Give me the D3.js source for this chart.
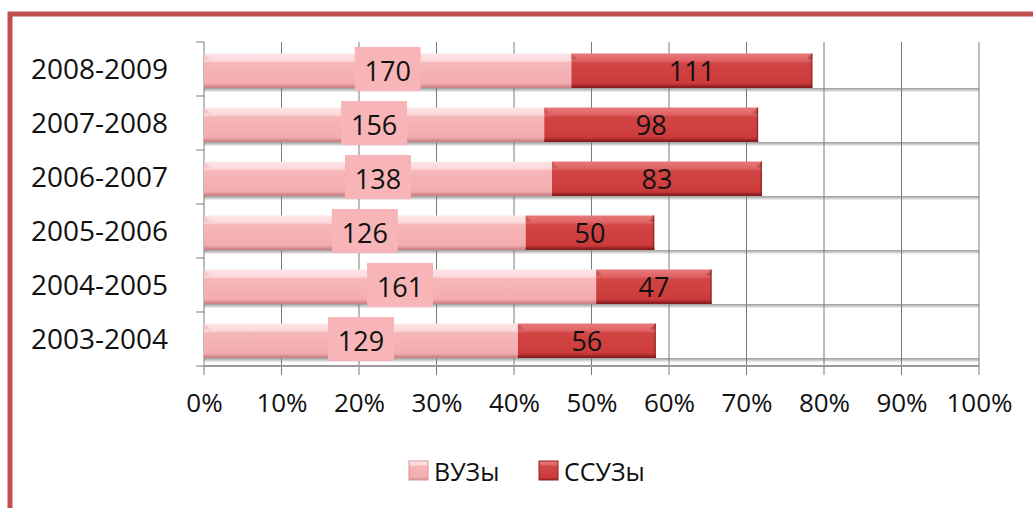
<!DOCTYPE html>
<html>
<head>
<meta charset="utf-8">
<script src="https://cdn.jsdelivr.net/npm/d3@7"></script>
<style>
  body { margin: 0; background: #ffffff; }
  svg { display: block; font-family: "Open Sans", sans-serif; }
</style>
</head>
<body>
<svg id="visualization"></svg>
<script>
// categories, top row first
var years = ["2008-2009", "2007-2008", "2006-2007", "2005-2006", "2004-2005", "2003-2004"]
// numbers written on the bars
var vuzLabels = [170, 156, 138, 126, 161, 129]
var ssuzLabels = [111, 98, 83, 50, 47, 56]
// bar lengths in % of the axis
var vuzShare = [47.4, 43.9, 44.9, 41.5, 50.6, 40.5]
var ssuzShare = [31.1, 27.6, 27.1, 16.6, 14.9, 17.8]
var xTicks = [0, 10, 20, 30, 40, 50, 60, 70, 80, 90, 100]
var seriesNames = ["ВУЗы", "ССУЗы"]

var dimensions = {
    width: 1033,
    height: 508,
    margin: {
        top: 42,
        bottom: 142,
        right: 54,
        left: 204
    }
}

var svg = d3.select("#visualization")
            .attr("width", dimensions.width)
            .attr("height", dimensions.height)

var plotBottom = dimensions.height - dimensions.margin.bottom

var xScale = d3.scaleLinear()
               .domain([0, 100])
               .range([dimensions.margin.left, dimensions.width - dimensions.margin.right])

var yScale = d3.scaleBand()
               .domain(years)
               .range([dimensions.margin.top, plotBottom])

var rows = years.map(function(y, i){
    return {year: y, vuz: vuzShare[i], ssuz: ssuzShare[i], vl: vuzLabels[i], sl: ssuzLabels[i]}
})

var defs = svg.append("defs")
function vGrad(id, stops){
    var g = defs.append("linearGradient").attr("id", id)
                .attr("x1", 0).attr("x2", 0).attr("y1", 0).attr("y2", 1)
    stops.forEach(function(s){
        g.append("stop").attr("offset", s[0]).attr("stop-color", s[1])
    })
}
vGrad("pinkG", [[0, "#fde6e7"], [0.2, "#fcd9db"], [0.28, "#f6b6b8"], [0.85, "#f3acaf"], [1, "#d88e92"]])
vGrad("redG", [[0, "#e77878"], [0.2, "#e06464"], [0.28, "#d24545"], [0.85, "#cc3b3b"], [1, "#9c2424"]])
vGrad("floorG", [[0, "#9a9a9a"], [0.5, "#c8c8c8"], [1, "#f4f4f4"]])

// frame
svg.append("rect")
   .attr("x", 10).attr("y", 14)
   .attr("width", dimensions.width + 20).attr("height", dimensions.height + 20)
   .attr("fill", "#ffffff")
   .attr("stroke", "#c0504d").attr("stroke-width", 5)

var barOffset = 11.5
var barHeight = 34.5

// floor shading under each row
svg.append("g").selectAll("rect")
   .data(rows).enter().append("rect")
   .attr("x", xScale(0))
   .attr("y", d => yScale(d.year) + barOffset + barHeight)
   .attr("width", xScale(100) - xScale(0))
   .attr("height", 4)
   .attr("fill", "url(#floorG)")

// vertical gridlines
svg.append("g").selectAll("line")
   .data(xTicks).enter().append("line")
   .attr("x1", d => xScale(d)).attr("x2", d => xScale(d))
   .attr("y1", dimensions.margin.top).attr("y2", plotBottom + 9)
   .attr("stroke", "#7a7a7a").attr("stroke-width", 1)

// floor line and category ticks
svg.append("line")
   .attr("x1", xScale(0)).attr("x2", xScale(100))
   .attr("y1", plotBottom).attr("y2", plotBottom)
   .attr("stroke", "#9a9a9a").attr("stroke-width", 2)

var yTicks = years.map(d => yScale(d)).concat([plotBottom])
svg.append("g").selectAll("line")
   .data(yTicks).enter().append("line")
   .attr("x1", xScale(0) - 8).attr("x2", xScale(0))
   .attr("y1", d => d).attr("y2", d => d)
   .attr("stroke", "#7a7a7a")

// bars
function drawBar(g, x0, x1, y, fill, top, bottom, rightBevel){
    var b = 6
    g.append("rect")
     .attr("x", x0).attr("y", y).attr("width", x1 - x0).attr("height", barHeight)
     .attr("fill", fill)
    // slanted ends of the top face
    g.append("path")
     .attr("d", "M" + x0 + "," + y + "L" + (x0 + b) + "," + (y + b) + "L" + x0 + "," + (y + b) + "Z")
     .attr("fill", bottom).attr("opacity", 0.25)
    if(rightBevel){
        g.append("path")
         .attr("d", "M" + x1 + "," + y + "L" + (x1 - b) + "," + (y + b) + "L" + x1 + "," + (y + b) + "Z")
         .attr("fill", bottom).attr("opacity", 0.35)
        g.append("rect")
         .attr("x", x1 - 1.5).attr("y", y).attr("width", 1.5).attr("height", barHeight)
         .attr("fill", bottom).attr("opacity", 0.6)
    }
    g.append("rect")
     .attr("x", x0).attr("y", y + barHeight - 2.5).attr("width", x1 - x0).attr("height", 2.5)
     .attr("fill", bottom).attr("opacity", 0.6)
}

var bars = svg.append("g")
rows.forEach(function(d){
    var y = yScale(d.year) + barOffset
    drawBar(bars, xScale(0), xScale(d.vuz), y, "url(#pinkG)", "#fff2f2", "#c97d82", false)
    drawBar(bars, xScale(d.vuz), xScale(d.vuz + d.ssuz), y, "url(#redG)", "#f09a9a", "#7e1a1a", true)
})

// value labels
var labels = svg.append("g").attr("font-size", 27).attr("fill", "#111")
rows.forEach(function(d){
    var cy = yScale(d.year) + yScale.bandwidth() / 2
    var cx1 = xScale(d.vuz / 2)
    labels.append("rect")
          .attr("x", cx1 - 33).attr("y", cy - 22)
          .attr("width", 66).attr("height", 44)
          .attr("fill", "#f7b5b7")
    labels.append("text")
          .attr("x", cx1).attr("y", cy + 1)
          .attr("text-anchor", "middle").attr("dominant-baseline", "central")
          .text(d.vl)
    labels.append("text")
          .attr("x", xScale(d.vuz + d.ssuz / 2)).attr("y", cy + 1)
          .attr("text-anchor", "middle").attr("dominant-baseline", "central")
          .text(d.sl)
})

// category axis labels
svg.append("g").selectAll("text")
   .data(years).enter().append("text")
   .attr("x", 168)
   .attr("y", d => yScale(d) + yScale.bandwidth() / 2 - 1)
   .attr("text-anchor", "end").attr("dominant-baseline", "central")
   .attr("font-size", 28).attr("fill", "#111")
   .text(d => d)

// x axis labels
var xAxisGen = d3.axisBottom(xScale)
                 .tickValues(xTicks)
                 .tickSize(0)
                 .tickPadding(0)
                 .tickFormat(d => d + "%")
var xAxis = svg.append("g")
               .attr("transform", `translate(0, ${plotBottom + 28})`)
               .call(xAxisGen)
xAxis.select(".domain").remove()
xAxis.selectAll("text")
     .attr("font-family", "Open Sans, sans-serif")
     .attr("font-size", 26).attr("fill", "#111")

// legend
var legendColors = ["url(#pinkG)", "url(#redG)"]
var legendX = [409, 539]
var legend = svg.append("g")
seriesNames.forEach(function(n, i){
    legend.append("rect")
          .attr("x", legendX[i]).attr("y", 461)
          .attr("width", 19).attr("height", 19)
          .attr("fill", legendColors[i])
          .attr("stroke", i == 0 ? "#d9959a" : "#8e2020").attr("stroke-width", 1)
    legend.append("text")
          .attr("x", legendX[i] + 25).attr("y", 471)
          .attr("dominant-baseline", "central")
          .attr("font-size", 25).attr("fill", "#111")
          .text(n)
})
</script>
</body>
</html>
